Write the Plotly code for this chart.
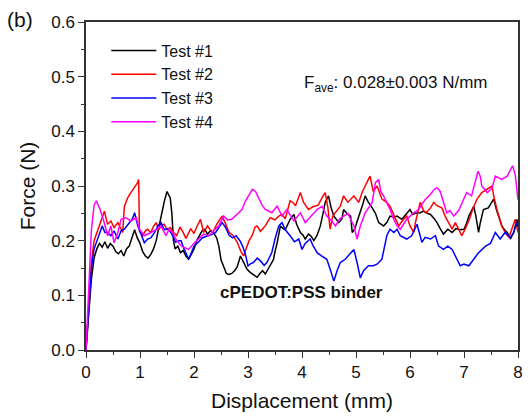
import plotly.graph_objects as go

# ---------------- data ----------------
test1_x = [0, 0.05, 0.1, 0.15, 0.2, 0.25, 0.3, 0.35, 0.4, 0.45, 0.5, 0.55, 0.6, 0.65, 0.7, 0.75, 0.8, 0.85, 0.9, 0.95,
           1.0, 1.05, 1.1, 1.15, 1.2, 1.25, 1.3, 1.35, 1.4, 1.45, 1.5, 1.53, 1.56, 1.59, 1.62, 1.65, 1.7, 1.75, 1.8, 1.85,
           1.9, 1.95, 2.0, 2.05, 2.1, 2.15, 2.2, 2.25, 2.3, 2.36, 2.42, 2.46, 2.5, 2.54, 2.6, 2.65, 2.7, 2.75, 2.8, 2.86,
           2.92, 2.98, 3.04, 3.1, 3.17, 3.22, 3.27, 3.32, 3.38, 3.41, 3.47, 3.5, 3.54, 3.6, 3.65, 3.69, 3.74, 3.78, 3.85, 3.9,
           3.97, 4.02, 4.06, 4.12, 4.17, 4.22, 4.28, 4.34, 4.4, 4.43, 4.49, 4.54, 4.59, 4.65, 4.68, 4.74, 4.77, 4.83, 4.9, 4.93,
           4.98, 5.02, 5.08, 5.13, 5.17, 5.22, 5.3, 5.36, 5.42, 5.48, 5.51, 5.57, 5.63, 5.7, 5.76, 5.85, 5.9, 5.94, 6.0, 6.05,
           6.1, 6.19, 6.25, 6.3, 6.38, 6.45, 6.5, 6.56, 6.62, 6.7, 6.78, 6.85, 6.92, 7.0, 7.05, 7.09, 7.14, 7.18, 7.22, 7.27,
           7.3, 7.36, 7.45, 7.55, 7.6, 7.65, 7.7, 7.75, 7.8, 7.86, 7.92, 7.98, 8.0]
test1_y = [0, 0.07, 0.13, 0.168, 0.185, 0.195, 0.188, 0.198, 0.186, 0.195, 0.19, 0.18, 0.176, 0.182, 0.172, 0.185, 0.19, 0.205, 0.22, 0.205,
           0.195, 0.18, 0.172, 0.168, 0.175, 0.185, 0.2, 0.225, 0.25, 0.272, 0.29, 0.283, 0.278, 0.25, 0.2, 0.185, 0.19, 0.178, 0.182, 0.172,
           0.166, 0.175, 0.185, 0.2, 0.21, 0.218, 0.221, 0.212, 0.218, 0.215, 0.205, 0.19, 0.165, 0.154, 0.14, 0.138, 0.14, 0.145, 0.152, 0.172,
           0.16, 0.148, 0.142, 0.138, 0.133, 0.14, 0.145, 0.139, 0.15, 0.154, 0.165, 0.18, 0.196, 0.227, 0.222, 0.22, 0.232, 0.239, 0.248, 0.23,
           0.215, 0.21, 0.203, 0.212, 0.208, 0.2, 0.21, 0.227, 0.255, 0.27, 0.282, 0.26, 0.245, 0.238, 0.233, 0.24, 0.257, 0.25, 0.245, 0.215,
           0.222, 0.235, 0.251, 0.268, 0.282, 0.272, 0.26, 0.25, 0.233, 0.228, 0.227, 0.233, 0.245, 0.243, 0.245, 0.239, 0.245, 0.251, 0.257, 0.248,
           0.25, 0.251, 0.254, 0.251, 0.248, 0.24, 0.233, 0.222, 0.212, 0.221, 0.215, 0.222, 0.22, 0.221, 0.232, 0.245, 0.255, 0.263, 0.245, 0.215,
           0.232, 0.257, 0.26, 0.276, 0.257, 0.24, 0.227, 0.22, 0.215, 0.203, 0.215, 0.239, 0.23]

test2_x = [0, 0.05, 0.1, 0.15, 0.2, 0.25, 0.3, 0.34, 0.4, 0.46, 0.52, 0.59, 0.65, 0.68, 0.71, 0.77, 0.83, 0.9, 0.95, 0.975,
           0.99, 1.05, 1.1, 1.14, 1.2, 1.25, 1.3, 1.35, 1.4, 1.45, 1.5, 1.56, 1.62, 1.68, 1.74, 1.8, 1.85, 1.94, 2.0, 2.05,
           2.12, 2.18, 2.25, 2.3, 2.35, 2.42, 2.48, 2.52, 2.58, 2.65, 2.72, 2.8, 2.87, 2.92, 2.96, 3.02, 3.08, 3.13, 3.17, 3.23,
           3.32, 3.41, 3.5, 3.57, 3.63, 3.69, 3.78, 3.85, 3.88, 3.97, 4.03, 4.12, 4.2, 4.3, 4.38, 4.43, 4.48, 4.52, 4.57, 4.62,
           4.71, 4.77, 4.85, 4.96, 5.05, 5.12, 5.2, 5.26, 5.32, 5.39, 5.48, 5.57, 5.63, 5.73, 5.79, 5.88, 5.94, 6.0, 6.07, 6.1,
           6.19, 6.25, 6.3, 6.38, 6.44, 6.5, 6.59, 6.65, 6.7, 6.78, 6.84, 6.9, 6.96, 7.02, 7.1, 7.16, 7.24, 7.33, 7.42, 7.52,
           7.55, 7.61, 7.7, 7.76, 7.83, 7.89, 7.95, 8.0]
test2_y = [0, 0.08, 0.16, 0.2, 0.215, 0.228, 0.245, 0.254, 0.23, 0.236, 0.224, 0.233, 0.221, 0.215, 0.262, 0.278, 0.288, 0.298, 0.305, 0.312,
           0.217, 0.209, 0.218, 0.221, 0.215, 0.226, 0.233, 0.22, 0.228, 0.23, 0.22, 0.224, 0.215, 0.209, 0.225, 0.215, 0.204, 0.222, 0.213, 0.225,
           0.239, 0.215, 0.227, 0.22, 0.215, 0.23, 0.24, 0.245, 0.232, 0.215, 0.21, 0.197, 0.18, 0.172, 0.184, 0.2, 0.21, 0.225, 0.227, 0.217,
           0.227, 0.242, 0.238, 0.245, 0.248, 0.24, 0.273, 0.268, 0.264, 0.288, 0.27, 0.257, 0.262, 0.265, 0.28, 0.288, 0.26, 0.221, 0.245, 0.252,
           0.263, 0.282, 0.27, 0.282, 0.27, 0.29, 0.306, 0.318, 0.29, 0.3, 0.276, 0.27, 0.263, 0.239, 0.227, 0.239, 0.245, 0.227, 0.215, 0.233,
           0.27, 0.255, 0.251, 0.26, 0.27, 0.264, 0.26, 0.245, 0.236, 0.221, 0.233, 0.221, 0.209, 0.221, 0.239, 0.257, 0.276, 0.288, 0.293, 0.3,
           0.282, 0.257, 0.227, 0.215, 0.206, 0.221, 0.239, 0.215]

test3_x = [0, 0.05, 0.1, 0.15, 0.2, 0.25, 0.3, 0.35, 0.4, 0.46, 0.52, 0.59, 0.65, 0.71, 0.8, 0.86, 0.9, 0.96, 1.02, 1.08,
           1.14, 1.2, 1.27, 1.33, 1.39, 1.45, 1.51, 1.57, 1.62, 1.66, 1.72, 1.76, 1.82, 1.9, 1.96, 2.0, 2.08, 2.15, 2.23, 2.3,
           2.35, 2.4, 2.47, 2.52, 2.58, 2.65, 2.72, 2.78, 2.85, 2.9, 2.96, 3.0, 3.05, 3.1, 3.17, 3.2, 3.23, 3.3, 3.35, 3.41,
           3.44, 3.5, 3.57, 3.63, 3.69, 3.78, 3.86, 3.94, 4.0, 4.06, 4.15, 4.2, 4.28, 4.36, 4.46, 4.52, 4.59, 4.65, 4.71, 4.8,
           4.9, 4.96, 5.02, 5.05, 5.08, 5.14, 5.23, 5.32, 5.39, 5.48, 5.52, 5.57, 5.63, 5.7, 5.76, 5.82, 5.94, 6.03, 6.13, 6.22,
           6.28, 6.38, 6.47, 6.53, 6.62, 6.7, 6.78, 6.87, 6.93, 7.0, 7.09, 7.18, 7.27, 7.4, 7.49, 7.58, 7.67, 7.76, 7.86, 7.92,
           7.98, 8.0]
test3_y = [0, 0.08, 0.15, 0.185, 0.2, 0.215, 0.227, 0.215, 0.215, 0.209, 0.218, 0.203, 0.218, 0.221, 0.233, 0.24, 0.251, 0.227, 0.212, 0.196,
           0.203, 0.205, 0.215, 0.227, 0.233, 0.22, 0.222, 0.215, 0.206, 0.197, 0.2, 0.2, 0.184, 0.166, 0.18, 0.19, 0.197, 0.205, 0.208, 0.21,
           0.212, 0.215, 0.227, 0.233, 0.225, 0.21, 0.205, 0.209, 0.2, 0.19, 0.172, 0.154, 0.158, 0.16, 0.168, 0.166, 0.163, 0.155, 0.16, 0.172,
           0.178, 0.203, 0.227, 0.233, 0.22, 0.209, 0.198, 0.203, 0.184, 0.195, 0.203, 0.192, 0.178, 0.172, 0.166, 0.148, 0.126, 0.145, 0.16, 0.166,
           0.178, 0.184, 0.16, 0.142, 0.132, 0.145, 0.154, 0.154, 0.157, 0.166, 0.184, 0.209, 0.221, 0.215, 0.221, 0.209, 0.203, 0.209, 0.23, 0.197,
           0.206, 0.203, 0.209, 0.19, 0.184, 0.19, 0.184, 0.166, 0.154, 0.157, 0.154, 0.166, 0.178, 0.19, 0.195, 0.215, 0.203, 0.215, 0.206, 0.215,
           0.233, 0.225]

test4_x = [0, 0.05, 0.1, 0.15, 0.19, 0.25, 0.28, 0.33, 0.4, 0.46, 0.52, 0.59, 0.65, 0.74, 0.83, 0.93, 0.99, 1.08, 1.2, 1.3,
           1.39, 1.48, 1.54, 1.6, 1.68, 1.77, 1.9, 2.02, 2.18, 2.27, 2.39, 2.46, 2.55, 2.62, 2.7, 2.8, 2.89, 2.95, 3.02, 3.08,
           3.14, 3.2, 3.26, 3.32, 3.44, 3.54, 3.63, 3.72, 3.85, 3.97, 4.06, 4.17, 4.28, 4.37, 4.46, 4.55, 4.62, 4.7, 4.77, 4.85,
           4.96, 5.02, 5.08, 5.17, 5.3, 5.36, 5.42, 5.46, 5.51, 5.57, 5.63, 5.7, 5.76, 5.82, 5.94, 6.07, 6.16, 6.28, 6.38, 6.45,
           6.5, 6.56, 6.62, 6.68, 6.74, 6.81, 6.9, 7.0, 7.05, 7.14, 7.21, 7.26, 7.3, 7.33, 7.43, 7.52, 7.58, 7.7, 7.8, 7.9,
           7.95, 8.0]
test4_y = [0, 0.12, 0.22, 0.265, 0.273, 0.26, 0.252, 0.236, 0.209, 0.227, 0.196, 0.215, 0.239, 0.242, 0.236, 0.242, 0.221, 0.209, 0.215, 0.22,
           0.227, 0.209, 0.221, 0.215, 0.2, 0.19, 0.184, 0.197, 0.212, 0.209, 0.221, 0.227, 0.245, 0.238, 0.239, 0.248, 0.257, 0.272, 0.285, 0.294,
           0.29, 0.278, 0.265, 0.257, 0.251, 0.263, 0.245, 0.257, 0.236, 0.251, 0.233, 0.245, 0.257, 0.263, 0.245, 0.236, 0.227, 0.24, 0.245, 0.25,
           0.227, 0.203, 0.227, 0.251, 0.27, 0.306, 0.312, 0.29, 0.282, 0.27, 0.257, 0.239, 0.227, 0.221, 0.239, 0.251, 0.257, 0.275, 0.285, 0.294,
           0.297, 0.29, 0.27, 0.251, 0.255, 0.245, 0.255, 0.276, 0.288, 0.282, 0.306, 0.327, 0.318, 0.3, 0.288, 0.296, 0.318, 0.312, 0.318, 0.337,
           0.32, 0.275]

series_names = ["Test #1", "Test #2", "Test #3", "Test #4"]
series_colors = ["#000000", "#FF0000", "#0000FF", "#FF00FF"]

x_ticks = [0, 1, 2, 3, 4, 5, 6, 7, 8]
y_ticks = [0.0, 0.1, 0.2, 0.3, 0.4, 0.5, 0.6]
y_tick_labels = ["0.0", "0.1", "0.2", "0.3", "0.4", "0.5", "0.6"]

# ---------------- figure ----------------
FONT = "Liberation Sans, Arial, sans-serif"
fig = go.Figure()
for i, (xs, ys) in enumerate([(test1_x, test1_y), (test2_x, test2_y), (test3_x, test3_y), (test4_x, test4_y)]):
    fig.add_trace(go.Scatter(
        x=xs, y=ys, mode="lines", name=series_names[i],
        line=dict(color=series_colors[i], width=1.5),
    ))

axis_common = dict(
    showgrid=False, zeroline=False, showline=True, linecolor="#333333", linewidth=1.5,
    mirror=True, ticks="outside", tickcolor="#333333", tickwidth=1.2, ticklen=6,
    tickfont=dict(family=FONT, size=17, color="#111111"), automargin=False,
)
fig.update_xaxes(
    range=[0, 8], tickvals=x_ticks,
    minor=dict(ticks="outside", dtick=0.5, ticklen=3, tickcolor="#333333", tickwidth=1.2),
    title=dict(text="Displacement (mm)", font=dict(family=FONT, size=21, color="#111111"), standoff=12),
    **axis_common,
)
fig.update_yaxes(
    range=[0, 0.6], tickvals=y_ticks, ticktext=y_tick_labels,
    minor=dict(ticks="outside", dtick=0.05, ticklen=3, tickcolor="#333333", tickwidth=1.2),
    title=dict(text="Force (N)", font=dict(family=FONT, size=21, color="#111111"), standoff=10),
    **axis_common,
)

# page body adds an 8px offset, so margins are shifted to place the plot area like the reference
fig.update_layout(
    width=532, height=416,
    margin=dict(l=78, r=22, t=14, b=74, autoexpand=False),
    paper_bgcolor="white", plot_bgcolor="white",
    font=dict(family=FONT, color="#111111"),
    legend=dict(
        x=0.047, y=0.965, xanchor="left", yanchor="top",
        bgcolor="rgba(0,0,0,0)", borderwidth=0,
        font=dict(family=FONT, size=16, color="#111111"),
        itemwidth=45,
    ),
    annotations=[
        dict(text="(b)", xref="paper", yref="paper", x=-0.153, y=1.008,
             xanchor="center", yanchor="middle", showarrow=False,
             font=dict(family=FONT, size=21, color="#111111")),
        dict(text="F<sub>ave</sub>: 0.028±0.003 N/mm", xref="x", yref="y", x=4.0, y=0.486,
             xanchor="left", yanchor="middle", showarrow=False,
             font=dict(family=FONT, size=17, color="#111111")),
        dict(text="<b>cPEDOT:PSS binder</b>", xref="x", yref="y", x=3.99, y=0.105,
             xanchor="center", yanchor="middle", showarrow=False,
             font=dict(family=FONT, size=17, color="#111111")),
    ],
)

fig.write_html("out.html")
